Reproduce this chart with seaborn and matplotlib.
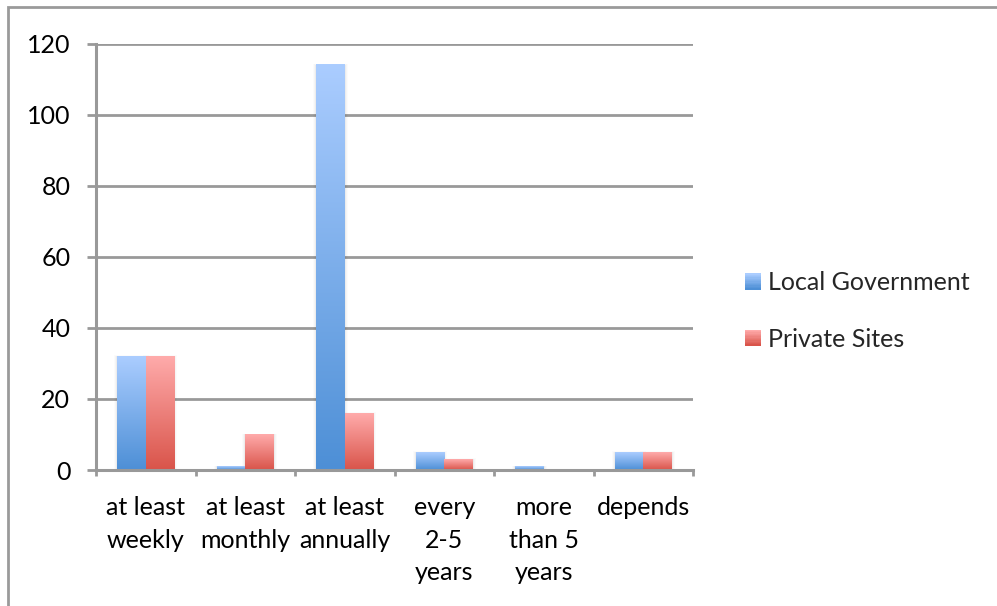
import numpy as np
import pandas as pd
import matplotlib
matplotlib.use("Agg")
import matplotlib.pyplot as plt
from matplotlib.patches import Rectangle, Patch
from matplotlib.colors import to_rgb
from matplotlib.legend_handler import HandlerBase
import seaborn as sns

# Survey: how often sites are inspected, by operator type
categories = ["at least\nweekly", "at least\nmonthly", "at least\nannually",
              "every\n2-5\nyears", "more\nthan 5\nyears", "depends"]
local_government = [32, 1, 114, 5, 1, 5]
private_sites = [32, 10, 16, 3, 0, 5]
series_names = ["Local Government", "Private Sites"]
y_ticks = [0, 20, 40, 60, 80, 100, 120]

# top / bottom colours of each series' vertical gradient
gradients = {
    "Local Government": ("#abcdff", "#4d8fd6"),
    "Private Sites": ("#ffabab", "#d9544a"),
}

df = pd.DataFrame({
    "category": categories * 2,
    "value": local_government + private_sites,
    "series": [series_names[0]] * len(categories) + [series_names[1]] * len(categories),
})

sns.set_theme(style="white")
plt.rcParams["font.family"] = ["Lato", "DejaVu Sans"]
FS = 18

W, H = 997, 606
fig = plt.figure(figsize=(W / 100, H / 100), dpi=100)
ax = fig.add_axes([96 / W, 1 - 470 / H, (693 - 96) / W, (470 - 43.5) / H])

grid_col = "#999999"

sns.barplot(data=df, x="category", y="value", hue="series", order=categories,
            hue_order=series_names, width=2 / 3.5, ax=ax, legend=False,
            palette=[gradients[s][1] for s in series_names], saturation=1,
            edgecolor="none", linewidth=0)


def ramp_image(name, n=256):
    top, bottom = (np.array(to_rgb(c)) for c in gradients[name])
    t = np.linspace(0, 1, n)[:, None, None]
    return top * (1 - t) + bottom * t


# replace each flat bar with a top-to-bottom gradient and a soft shadow
for container, name in zip(ax.containers, series_names):
    img = ramp_image(name)
    for bar in container:
        x0, w, h = bar.get_x(), bar.get_width(), bar.get_height()
        bar.set_facecolor("none")
        if h <= 0:
            continue
        for k, a in enumerate([0.035, 0.025, 0.015]):
            pad = 0.01 * (k + 1)
            ax.add_patch(Rectangle((x0 - pad, 0), w + 2 * pad, h + pad * 8,
                                   facecolor="black", alpha=a, edgecolor="none",
                                   zorder=1.5))
        ax.imshow(img, extent=[x0, x0 + w, 0, h], aspect="auto", origin="upper",
                  interpolation="bilinear", zorder=2)

ax.set_ylim(0, 120)
ax.set_xlim(-0.5, len(categories) - 0.5)

ax.set_yticks(y_ticks)
ax.set_yticklabels([str(t) for t in y_ticks])
ax.set_xticks(np.arange(len(categories) + 1) - 0.5, minor=False)
ax.set_xticklabels([""] * (len(categories) + 1))
ax.set_xticks(np.arange(len(categories)), minor=True)
ax.set_xticklabels(categories, minor=True, linespacing=1.5)

ax.grid(axis="y", color=grid_col, linewidth=2)
ax.set_axisbelow(True)
for side in ["top", "right"]:
    ax.spines[side].set_visible(False)
for side in ["left", "bottom"]:
    ax.spines[side].set_color(grid_col)
    ax.spines[side].set_linewidth(2.2)
    ax.spines[side].set_zorder(3)

ax.tick_params(axis="y", which="major", length=6.5, width=2, color=grid_col,
               left=True, pad=12, labelsize=FS, labelcolor="black")
ax.tick_params(axis="x", which="major", length=4.5, width=2, color=grid_col,
               bottom=True, direction="out")
ax.tick_params(axis="x", which="minor", length=0, pad=19, labelsize=FS,
               labelcolor="black")

ax.set_xlabel("")
ax.set_ylabel("")


class GradientHandler(HandlerBase):
    """Legend key drawn as a small vertical colour ramp."""

    def create_artists(self, legend, orig_handle, xdescent, ydescent, width,
                       height, fontsize, trans):
        name = orig_handle.get_label()
        img = ramp_image(name, 12)[:, 0, :]
        side = min(width, height)
        n = len(img)
        return [Rectangle((-xdescent, -ydescent + side * (n - 1 - i) / n),
                          side, side / n + 0.3, facecolor=img[i],
                          edgecolor="none", transform=trans)
                for i in range(n)]


handles = [Patch(label=s) for s in series_names]
fig.legend(handles, series_names, loc="center left",
           bbox_to_anchor=(745 / W, 1 - 311 / H), frameon=False, fontsize=FS,
           handlelength=0.65, handleheight=0.65, handletextpad=0.25,
           labelspacing=1.33, borderpad=0, borderaxespad=0,
           handler_map={Patch: GradientHandler()})

# outer chart frame
fig.patches.append(Rectangle((8 / W, -0.1), 1.2, 1 - 7 / H + 0.1,
                             transform=fig.transFigure, fill=False,
                             edgecolor="#9a9a9a", linewidth=2))

fig.savefig("out.png", dpi=100)
